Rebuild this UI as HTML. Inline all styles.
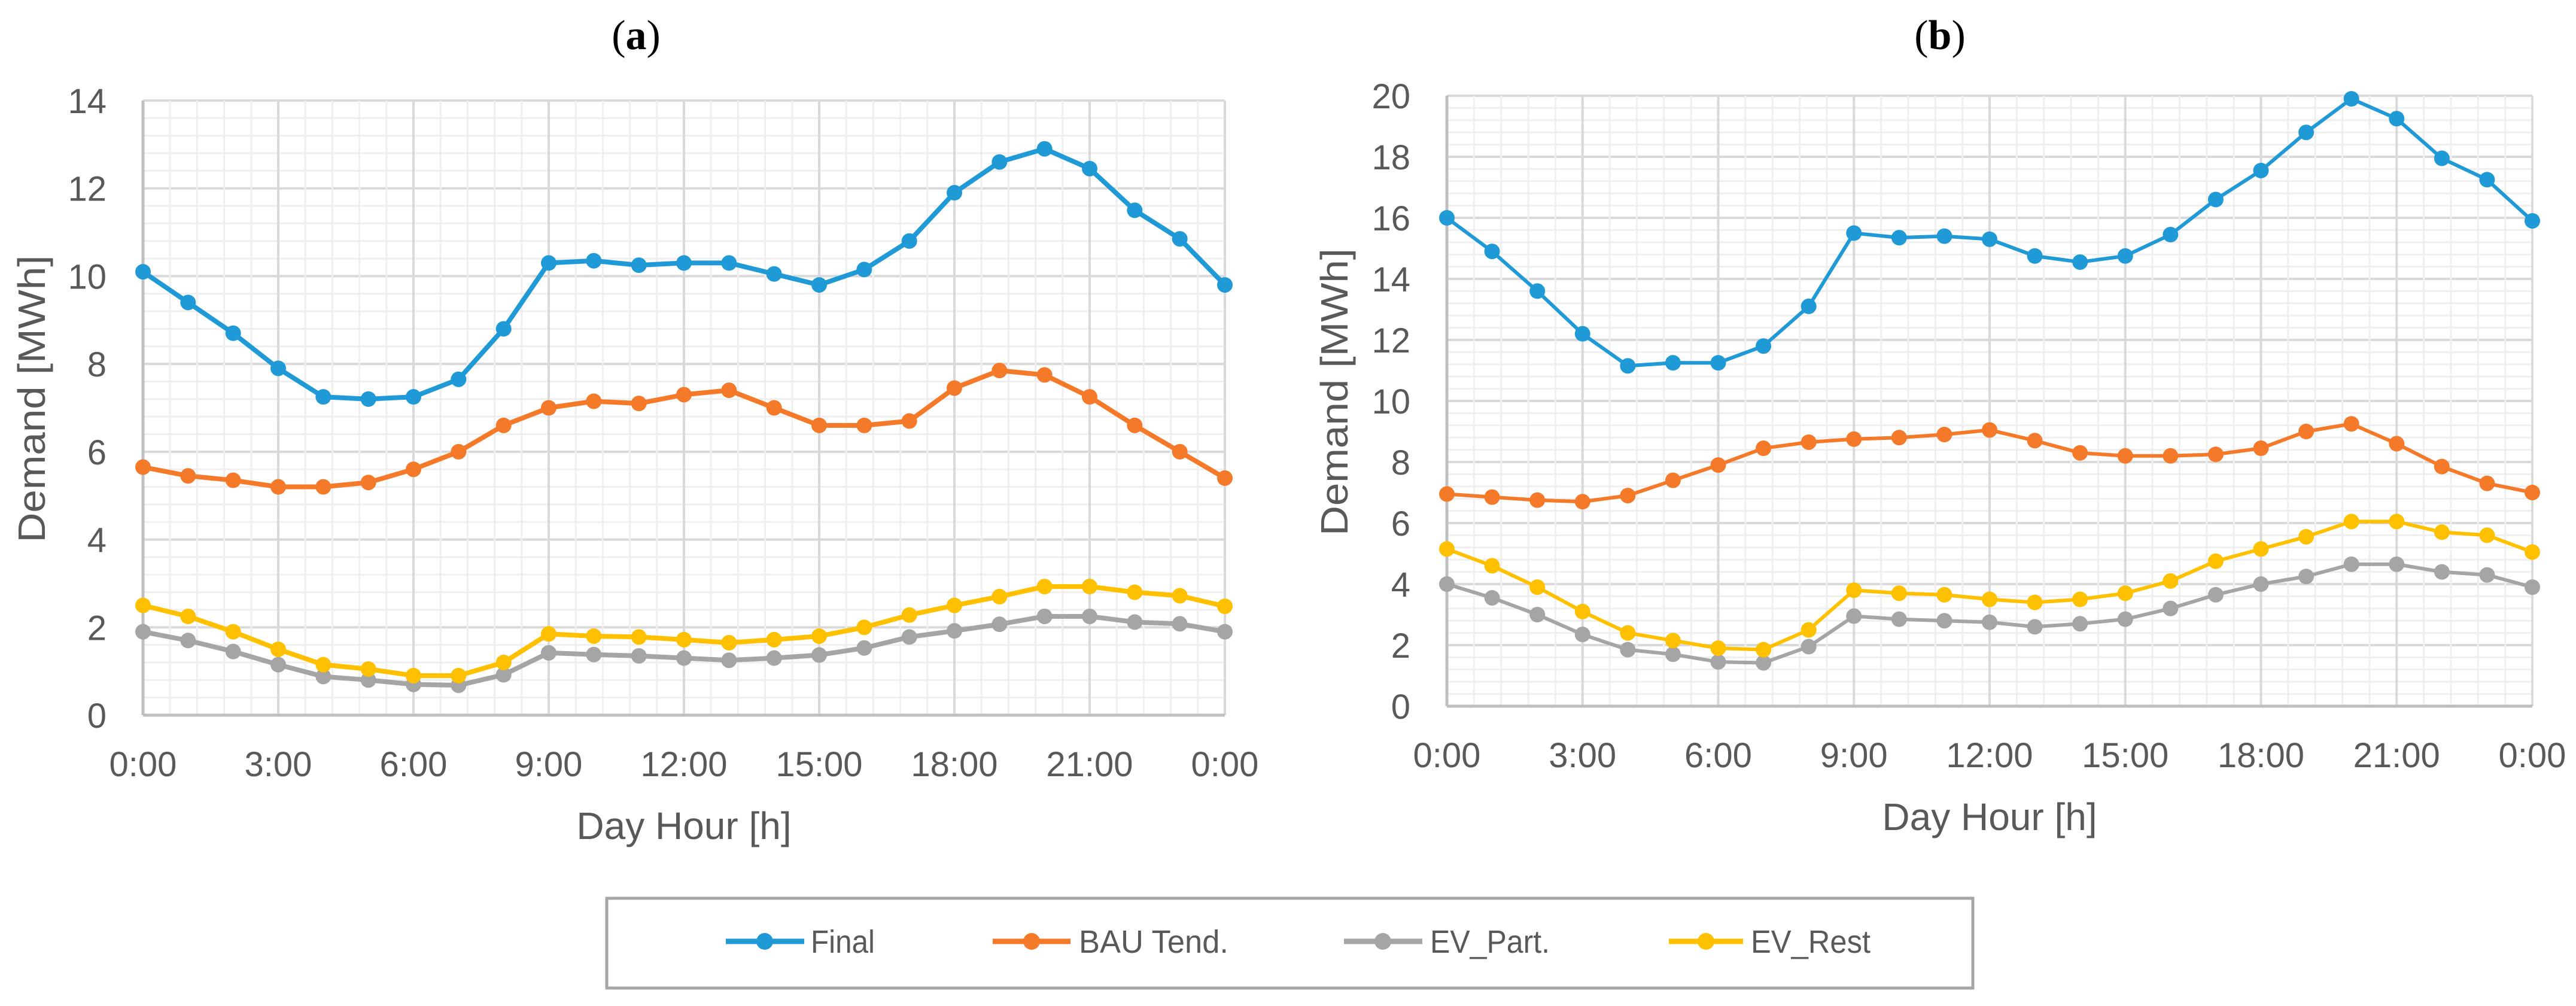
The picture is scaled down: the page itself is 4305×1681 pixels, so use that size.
<!DOCTYPE html>
<html><head><meta charset="utf-8"><style>
html,body{margin:0;padding:0;background:#fff;}
svg{display:block;}
text{font-family:"Liberation Sans",sans-serif;fill:#595959;}
</style></head><body>
<svg id="fig" xmlns="http://www.w3.org/2000/svg" width="4305" height="1681" viewBox="0 0 4305 1681">
<rect width="4305" height="1681" fill="#fff"/>
<g id="chartA"></g>
<g id="chartB"></g>
<g id="legend">
 <rect x="1014" y="1501" width="2283" height="150" fill="#fff" stroke="#a6a6a6" stroke-width="5"/>
 <g>
  <line x1="1213" y1="1573" x2="1344" y2="1573" stroke="#1f9ad6" stroke-width="9"/><circle cx="1278" cy="1573" r="14" fill="#1f9ad6"/>
  <text x="1355" y="1592" font-size="54" textLength="107" lengthAdjust="spacingAndGlyphs">Final</text></g>
 <g>
  <line x1="1659" y1="1573" x2="1789" y2="1573" stroke="#f47a2a" stroke-width="9"/><circle cx="1724" cy="1573" r="14" fill="#f47a2a"/>
  <text x="1803" y="1592" font-size="54" textLength="250" lengthAdjust="spacingAndGlyphs">BAU Tend.</text></g>
 <g>
  <line x1="2246" y1="1573" x2="2377" y2="1573" stroke="#a5a5a5" stroke-width="9"/><circle cx="2311" cy="1573" r="14" fill="#a5a5a5"/>
  <text x="2390" y="1592" font-size="54" textLength="200" lengthAdjust="spacingAndGlyphs">EV_Part.</text></g>
 <g>
  <line x1="2789" y1="1573" x2="2913" y2="1573" stroke="#ffc000" stroke-width="9"/><circle cx="2851" cy="1573" r="14" fill="#ffc000"/>
  <text x="2926" y="1592" font-size="54" textLength="200" lengthAdjust="spacingAndGlyphs">EV_Rest</text></g>
</g>
</svg>
<script>
const hours = [0,1,2,3,4,5,6,7,8,9,10,11,12,13,14,15,16,17,18,19,20,21,22,23,24];
const xTickLabels = ["0:00","3:00","6:00","9:00","12:00","15:00","18:00","21:00","0:00"];
const yTicksA = [0,2,4,6,8,10,12,14];
const yTicksB = [0,2,4,6,8,10,12,14,16,18,20];
const finalA = [10.1,9.4,8.7,7.9,7.25,7.2,7.25,7.65,8.8,10.3,10.35,10.25,10.3,10.3,10.05,9.8,10.15,10.8,11.9,12.6,12.9,12.45,11.5,10.85,9.8];
const bauA = [5.65,5.45,5.35,5.2,5.2,5.3,5.6,6.0,6.6,7.0,7.15,7.1,7.3,7.4,7.0,6.6,6.6,6.7,7.45,7.85,7.75,7.25,6.6,6.0,5.4];
const evPartA = [1.9,1.7,1.45,1.15,0.88,0.8,0.7,0.68,0.92,1.42,1.38,1.35,1.3,1.25,1.3,1.37,1.53,1.78,1.92,2.07,2.25,2.25,2.12,2.08,1.9];
const evRestA = [2.5,2.25,1.9,1.5,1.15,1.05,0.9,0.9,1.2,1.85,1.8,1.78,1.72,1.65,1.72,1.8,2.0,2.28,2.5,2.7,2.93,2.93,2.8,2.72,2.48];
const finalB = [16.0,14.9,13.6,12.2,11.15,11.25,11.25,11.8,13.1,15.5,15.35,15.4,15.3,14.75,14.55,14.75,15.45,16.6,17.55,18.8,19.9,19.25,17.95,17.25,15.9];
const bauB = [6.95,6.85,6.75,6.7,6.9,7.4,7.9,8.45,8.65,8.75,8.8,8.9,9.05,8.7,8.3,8.2,8.2,8.25,8.45,9.0,9.25,8.6,7.85,7.3,7.0];
const evPartB = [4.0,3.55,3.0,2.35,1.85,1.7,1.45,1.42,1.95,2.95,2.85,2.8,2.75,2.6,2.7,2.85,3.2,3.65,4.0,4.25,4.65,4.65,4.4,4.3,3.9];
const evRestB = [5.15,4.6,3.9,3.1,2.4,2.15,1.9,1.85,2.5,3.8,3.7,3.65,3.5,3.4,3.5,3.7,4.1,4.75,5.15,5.55,6.05,6.05,5.7,5.6,5.05];

const NS = "http://www.w3.org/2000/svg";
function mk(parent, tag, attrs, txt){
  const e = document.createElementNS(NS, tag);
  for (const k in attrs) e.setAttribute(k, attrs[k]);
  if (txt !== undefined) e.textContent = txt;
  parent.appendChild(e);
  return e;
}
function drawChart(g, cfg){
  const {L,R,T,B,ymax,yTicks,series,title,titleX,ylabX,ylabRight,w} = cfg;
  const sx = h => L + (h/24)*(R-L);
  const sy = v => B - (v/ymax)*(B-T);
  const grid = mk(g,'g',{});
  
  
  const step = yTicks[1]-yTicks[0];
  for (let v=0; v<=ymax+1e-9; v+=step/5){
    const major = Math.abs(v/step - Math.round(v/step))<1e-6;
    mk(grid,'line',{x1:L,x2:R,y1:sy(v),y2:sy(v),stroke:major?'#d9d9d9':'#efefef','stroke-width':major?4:3});
  }
  for (let h=0; h<=24+1e-9; h+=0.6){
    const major = Math.abs(h/3 - Math.round(h/3))<1e-6;
    mk(grid,'line',{x1:sx(h),x2:sx(h),y1:T,y2:B,stroke:major?'#d9d9d9':'#efefef','stroke-width':major?4:3});
  }
  const ax = mk(g,'g',{});
  
  
  mk(ax,'line',{x1:L,x2:L,y1:T,y2:B,stroke:'#bfbfbf','stroke-width':5});
  mk(ax,'line',{x1:L,x2:R,y1:B,y2:B,stroke:'#bfbfbf','stroke-width':5});
  yTicks.forEach(v=>{
    const t = mk(g,'text',{x:ylabRight,y:sy(v)+21,'text-anchor':'end','font-size':58},String(v));
    
    
  });
  xTickLabels.forEach((s,i)=>{
    const t = mk(g,'text',{x:sx(i*3),y:B+102,'text-anchor':'middle','font-size':58},s);
    
    
  });
  const yt = mk(g,'text',{x:0,y:0,'text-anchor':'middle','font-size':64,textLength:480,lengthAdjust:'spacingAndGlyphs',transform:`translate(${ylabX},${(T+B)/2-15}) rotate(-90)`},'Demand [MWh]');
  
  
  const xt = mk(g,'text',{x:(L+R)/2,y:B+207,'text-anchor':'middle','font-size':64},'Day Hour [h]');
  
  
  const tt = mk(g,'text',{x:titleX,y:82,'text-anchor':'middle','font-size':70,style:'font-family:"Liberation Serif",serif;fill:#000'});
  mk(tt,'tspan',{},'(');
  mk(tt,'tspan',{'font-weight':'bold'},title);
  mk(tt,'tspan',{},')');
  
  
  series.forEach(s=>{
    const sg = mk(g,'g',{});
    
    
    const pts = s.data.map((v,i)=>sx(hours[i])+','+sy(v)).join(' ');
    const pl = mk(sg,'polyline',{points:pts,fill:'none',stroke:s.color,'stroke-width':w,'stroke-linejoin':'round'});
    
    
    s.data.forEach((v,i)=>{
      const c = mk(sg,'circle',{cx:sx(hours[i]),cy:sy(v),r:13,fill:s.color});
      
      
    });
  });
}
drawChart(document.getElementById('chartA'),{L:239,R:2047,T:168,B:1195,ymax:14,yTicks:yTicksA,title:'a',titleX:1063,ylabX:75,ylabRight:178,w:8,
  series:[{name:'ev-part',data:evPartA,color:'#a5a5a5'},{name:'ev-rest',data:evRestA,color:'#ffc000'},{name:'bau',data:bauA,color:'#f47a2a'},{name:'final',data:finalA,color:'#1f9ad6'}]});
drawChart(document.getElementById('chartB'),{L:2418,R:4232,T:160,B:1180,ymax:20,yTicks:yTicksB,title:'b',titleX:3242,ylabX:2252,ylabRight:2357,w:6,
  series:[{name:'ev-part',data:evPartB,color:'#a5a5a5'},{name:'ev-rest',data:evRestB,color:'#ffc000'},{name:'bau',data:bauB,color:'#f47a2a'},{name:'final',data:finalB,color:'#1f9ad6'}]});
</script>
</body></html>
